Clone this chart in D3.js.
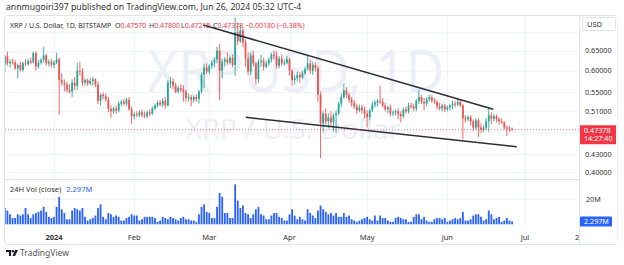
<!DOCTYPE html>
<html>
<head>
<meta charset="utf-8">
<script src="https://cdn.jsdelivr.net/npm/d3@7"></script>
<style>
  body { margin: 0; background: #fff; }
  svg text { font-family: "Noto Sans", sans-serif; }
</style>
</head>
<body>
<div id="chart"></div>
<script>
// daily candles, first bar = Dec 13 2023 (UTC)
const startDate = new Date(Date.UTC(2023, 11, 13));

const open = [
  // Dec
  0.615,0.636,0.618,0.622,0.620,0.606,0.614,0.602,0.618,0.616,0.624,0.620,0.644,0.610,0.620,0.626,0.638,0.618,0.622,
  // Jan
  0.614,0.620,0.628,0.578,0.572,0.568,0.556,0.552,0.572,0.565,0.600,0.598,0.572,0.578,0.570,0.576,0.580,0.568,0.532,0.545,0.542,0.535,0.515,0.510,0.516,0.512,0.526,0.530,0.526,0.534,0.514,
  // Feb
  0.500,0.504,0.502,0.508,0.502,0.500,0.508,0.505,0.516,0.522,0.528,0.524,0.532,0.522,0.572,0.575,0.566,0.552,0.560,0.556,0.552,0.538,0.540,0.534,0.540,0.536,0.552,0.590,0.608,
  // Mar
  0.598,0.612,0.620,0.628,0.650,0.600,0.622,0.628,0.620,0.632,0.614,0.700,0.675,0.705,0.672,0.630,0.598,0.638,0.618,0.580,0.622,0.625,0.610,0.618,0.628,0.640,0.636,0.612,0.630,0.618,0.620,
  // Apr
  0.628,0.600,0.578,0.582,0.590,0.584,0.594,0.604,0.618,0.600,0.614,0.606,0.545,0.486,0.505,0.490,0.498,0.488,0.502,0.506,0.526,0.540,0.555,0.545,0.534,0.528,0.520,0.512,0.518,0.512,
  // May
  0.505,0.498,0.512,0.524,0.528,0.532,0.530,0.522,0.514,0.518,0.506,0.508,0.510,0.504,0.500,0.514,0.510,0.522,0.520,0.516,0.532,0.540,0.530,0.526,0.535,0.540,0.532,0.530,0.520,0.516,0.522,
  // Jun
  0.514,0.518,0.522,0.526,0.524,0.530,0.522,0.496,0.494,0.498,0.490,0.478,0.492,0.478,0.474,0.478,0.490,0.502,0.495,0.500,0.494,0.490,0.488,0.478,0.476,0.4757
];
const high = [
  0.640,0.648,0.628,0.630,0.626,0.618,0.622,0.622,0.628,0.630,0.632,0.648,0.648,0.626,0.632,0.660,0.642,0.628,0.630,
  0.626,0.645,0.632,0.594,0.580,0.574,0.568,0.580,0.585,0.620,0.622,0.606,0.582,0.582,0.582,0.585,0.582,0.575,0.548,0.550,0.548,0.540,0.522,0.520,0.522,0.530,0.534,0.536,0.538,0.540,0.520,
  0.508,0.510,0.512,0.514,0.510,0.512,0.514,0.520,0.526,0.532,0.534,0.538,0.540,0.578,0.585,0.582,0.572,0.564,0.568,0.566,0.556,0.548,0.545,0.544,0.546,0.556,0.596,0.616,0.618,
  0.616,0.626,0.634,0.660,0.668,0.630,0.634,0.645,0.638,0.640,0.742,0.725,0.722,0.712,0.680,0.645,0.645,0.650,0.622,0.628,0.640,0.632,0.625,0.632,0.645,0.650,0.648,0.636,0.640,0.628,0.636,
  0.632,0.604,0.590,0.598,0.596,0.600,0.610,0.640,0.628,0.622,0.620,0.612,0.552,0.510,0.516,0.506,0.510,0.505,0.512,0.530,0.548,0.570,0.562,0.550,0.540,0.534,0.526,0.524,0.524,0.520,
  0.512,0.515,0.530,0.534,0.536,0.565,0.538,0.528,0.522,0.524,0.512,0.514,0.516,0.510,0.518,0.520,0.528,0.528,0.526,0.536,0.556,0.545,0.538,0.540,0.545,0.544,0.538,0.534,0.528,0.526,0.526,
  0.522,0.525,0.532,0.532,0.536,0.535,0.526,0.502,0.502,0.502,0.494,0.496,0.496,0.486,0.482,0.496,0.518,0.508,0.505,0.504,0.498,0.496,0.490,0.482,0.481,0.478
];
const low = [
  0.595,0.612,0.608,0.615,0.602,0.582,0.598,0.598,0.610,0.612,0.616,0.618,0.600,0.605,0.615,0.620,0.612,0.610,0.608,
  0.606,0.616,0.503,0.565,0.552,0.550,0.548,0.540,0.555,0.556,0.588,0.565,0.565,0.565,0.566,0.565,0.562,0.525,0.522,0.535,0.530,0.508,0.497,0.505,0.505,0.508,0.520,0.522,0.520,0.512,0.485,
  0.494,0.498,0.498,0.498,0.496,0.496,0.500,0.503,0.512,0.518,0.520,0.518,0.515,0.520,0.560,0.558,0.548,0.548,0.550,0.530,0.530,0.530,0.520,0.528,0.530,0.526,0.548,0.560,0.592,
  0.592,0.604,0.608,0.618,0.533,0.582,0.610,0.614,0.615,0.608,0.588,0.665,0.670,0.660,0.610,0.590,0.590,0.610,0.568,0.572,0.610,0.600,0.606,0.612,0.620,0.628,0.605,0.606,0.612,0.612,0.616,
  0.588,0.565,0.568,0.575,0.572,0.580,0.590,0.600,0.592,0.590,0.598,0.530,0.423,0.470,0.484,0.476,0.480,0.470,0.468,0.502,0.518,0.536,0.538,0.528,0.520,0.515,0.505,0.508,0.505,0.495,
  0.478,0.492,0.508,0.518,0.520,0.525,0.518,0.510,0.506,0.500,0.500,0.502,0.494,0.488,0.496,0.505,0.506,0.515,0.510,0.510,0.525,0.525,0.512,0.520,0.530,0.528,0.525,0.514,0.512,0.510,0.508,
  0.510,0.512,0.514,0.518,0.520,0.518,0.456,0.488,0.490,0.482,0.472,0.474,0.460,0.468,0.470,0.474,0.470,0.485,0.490,0.488,0.484,0.485,0.474,0.462,0.470,0.47215
];
const close = [
  0.636,0.618,0.622,0.620,0.606,0.614,0.602,0.618,0.616,0.624,0.620,0.644,0.610,0.620,0.626,0.638,0.618,0.622,0.614,
  0.620,0.628,0.578,0.572,0.568,0.556,0.552,0.572,0.565,0.600,0.598,0.572,0.578,0.570,0.576,0.580,0.568,0.532,0.545,0.542,0.535,0.515,0.510,0.516,0.512,0.526,0.530,0.526,0.534,0.514,0.500,
  0.504,0.502,0.508,0.502,0.500,0.508,0.505,0.516,0.522,0.528,0.524,0.532,0.522,0.572,0.575,0.566,0.552,0.560,0.556,0.552,0.538,0.540,0.534,0.540,0.536,0.552,0.590,0.608,0.598,
  0.612,0.620,0.628,0.650,0.600,0.622,0.628,0.620,0.632,0.614,0.700,0.675,0.705,0.672,0.630,0.598,0.638,0.618,0.580,0.622,0.625,0.610,0.618,0.628,0.640,0.636,0.612,0.630,0.618,0.620,0.628,
  0.600,0.578,0.582,0.590,0.584,0.594,0.604,0.618,0.600,0.614,0.606,0.545,0.486,0.505,0.490,0.498,0.488,0.502,0.506,0.526,0.540,0.555,0.545,0.534,0.528,0.520,0.512,0.518,0.512,0.505,
  0.498,0.512,0.524,0.528,0.532,0.530,0.522,0.514,0.518,0.506,0.508,0.510,0.504,0.500,0.514,0.510,0.522,0.520,0.516,0.532,0.540,0.530,0.526,0.535,0.540,0.532,0.530,0.520,0.516,0.522,0.514,
  0.518,0.522,0.526,0.524,0.530,0.522,0.496,0.494,0.498,0.490,0.478,0.492,0.478,0.474,0.478,0.490,0.502,0.495,0.500,0.494,0.490,0.488,0.478,0.476,0.4757,0.47378
];
// 24H volume, millions
const volume = [
  13,11,8,5,5,8,7,8,13,8,5,8,9,10,11,14,10,6,5,
  6,14,22,12,9,4,4,11,13,12,11,13,6,3,4,5,7,13,16,6,4,9,8,6,7,6,3,3,5,6,8,
  7,7,3,4,6,6,6,6,5,2,3,6,5,4,6,5,4,3,5,6,4,4,3,3,2,8,14,16,10,
  9,5,5,14,25,22,9,9,5,5,32,19,13,15,9,8,5,8,12,14,8,7,4,4,7,9,9,6,5,3,3,
  8,12,7,4,6,4,3,12,9,7,5,11,15,12,10,8,9,7,9,6,6,9,6,7,4,3,2,3,4,5,
  6,4,3,7,3,7,5,5,3,2,2,5,6,5,4,4,2,2,6,8,8,4,6,3,2,2,4,5,5,4,5,
  2,3,4,5,4,5,10,3,3,4,7,8,8,6,3,4,11,8,4,5,6,2,3,5,3,2.297
];

const priceTicks = [0.40, 0.43, 0.47, 0.51, 0.55, 0.60, 0.65, 0.70];
const priceLabels = [0.40, 0.43, 0.51, 0.55, 0.60, 0.65];
const volTicks = [20];
const timeTicks = [
  Date.UTC(2024,0,1), Date.UTC(2024,1,1), Date.UTC(2024,2,1), Date.UTC(2024,3,1),
  Date.UTC(2024,4,1), Date.UTC(2024,5,1), Date.UTC(2024,6,1), Date.UTC(2024,6,22)
];
const timeLabels = ["2024", "Feb", "Mar", "Apr", "May", "Jun", "Jul", "22"];

// trend lines [time, price]
const upperTrend = [[Date.UTC(2024,1,27,16), 0.7204], [Date.UTC(2024,5,18,18), 0.5142]];
const lowerTrend = [[Date.UTC(2024,2,15,2), 0.498], [Date.UTC(2024,5,27,19), 0.4427]];

const lastPrice = 0.47378;
const lastVol = 2.297;

const UP = "#26a69a", DOWN = "#ef5350", RED = "#f23645", BLUE = "#2962ff";
const W = 624, H = 265;
const plotL = 5, plotR = 579, plotT = 16, priceB = 179, volB = 229;

const svg = d3.select("#chart").append("svg")
  .attr("width", W).attr("height", H);

const dates = d3.utcDay.range(startDate, d3.utcDay.offset(startDate, close.length));

const x = d3.scaleUtc()
  .domain([new Date(Date.UTC(2024,0,1)), new Date(Date.UTC(2024,6,1))])
  .range([54, 525]);
const y = d3.scaleLog().domain([0.389, 0.747]).range([priceB, plotT]);
const yv = d3.scaleLinear().domain([0, 20]).range([224.3, 199.3]);

const defs = svg.append("defs");
defs.append("clipPath").attr("id", "clipPrice").append("rect")
  .attr("x", plotL).attr("y", plotT).attr("width", plotR - plotL).attr("height", priceB - plotT);
defs.append("clipPath").attr("id", "clipVol").append("rect")
  .attr("x", plotL).attr("y", priceB).attr("width", plotR - plotL).attr("height", volB - priceB);

// frame
svg.append("rect")
  .attr("x", 4.5).attr("y", 15.5).attr("width", 613).attr("height", 229)
  .attr("rx", 3).attr("fill", "#fff").attr("stroke", "#e0e3eb");

// grid
const grid = svg.append("g").attr("stroke", "#f0f3fa").attr("stroke-width", 1);
priceTicks.forEach(t => {
  grid.append("line").attr("x1", plotL).attr("x2", plotR)
    .attr("y1", Math.round(y(t)) + 0.5).attr("y2", Math.round(y(t)) + 0.5);
});
volTicks.forEach(t => {
  grid.append("line").attr("x1", plotL).attr("x2", plotR)
    .attr("y1", Math.round(yv(t)) + 0.5).attr("y2", Math.round(yv(t)) + 0.5);
});
timeTicks.slice(0, 7).forEach(t => {
  grid.append("line").attr("y1", plotT).attr("y2", volB)
    .attr("x1", Math.round(x(t)) + 0.5).attr("x2", Math.round(x(t)) + 0.5);
});
// pane separator
svg.append("line").attr("x1", plotL).attr("x2", 617)
  .attr("y1", priceB + 0.5).attr("y2", priceB + 0.5).attr("stroke", "#e0e3eb");

// watermark
svg.append("text").attr("x", 296).attr("y", 92).attr("text-anchor", "middle")
  .attr("font-size", 58).attr("fill", "#eceff8")
  .attr("textLength", 297).attr("lengthAdjust", "spacingAndGlyphs")
  .text("XRPUSD, 1D");
svg.append("text").attr("x", 293).attr("y", 139).attr("text-anchor", "middle")
  .attr("font-size", 28).attr("fill", "#eceff8")
  .attr("textLength", 215).attr("lengthAdjust", "spacingAndGlyphs")
  .text("XRP / U.S. Dollar");

// candles
const bodyW = 1.8;
const candles = svg.append("g").attr("clip-path", "url(#clipPrice)");
dates.forEach((d, i) => {
  const col = close[i] >= open[i] ? UP : DOWN;
  const cx = x(d);
  candles.append("line")
    .attr("x1", cx).attr("x2", cx)
    .attr("y1", y(high[i])).attr("y2", y(low[i]))
    .attr("stroke", col).attr("stroke-width", 0.9);
  const y0 = Math.min(y(open[i]), y(close[i]));
  const hgt = Math.max(1, Math.abs(y(open[i]) - y(close[i])));
  candles.append("rect")
    .attr("x", cx - bodyW / 2).attr("y", y0)
    .attr("width", bodyW).attr("height", hgt)
    .attr("fill", col);
});

// volume
const vols = svg.append("g").attr("clip-path", "url(#clipVol)");
dates.forEach((d, i) => {
  vols.append("rect")
    .attr("x", x(d) - bodyW / 2).attr("y", yv(volume[i]))
    .attr("width", bodyW).attr("height", yv(0) - yv(volume[i]))
    .attr("fill", BLUE);
});

// trend lines
const line = d3.line().x(d => x(d[0])).y(d => y(d[1]));
[upperTrend, lowerTrend].forEach(t => {
  svg.append("path").datum(t)
    .attr("d", line).attr("fill", "none")
    .attr("stroke", "#2a2e39").attr("stroke-width", 1.5);
});

// last price line
svg.append("line").attr("x1", plotL).attr("x2", plotR)
  .attr("y1", y(lastPrice)).attr("y2", y(lastPrice))
  .attr("stroke", RED).attr("stroke-width", 1)
  .attr("stroke-dasharray", "1,2").attr("opacity", 0.7);

// publish header
svg.append("text").attr("x", 6).attr("y", 10)
  .attr("font-size", 8.7).attr("fill", "#333")
  .text("annmugoiri397 published on TradingView.com, Jun 26, 2024 05:32 UTC-4");

// legend line
const leg = svg.append("text").attr("y", 27.5).attr("font-size", 7).attr("fill", "#333");
leg.append("tspan").attr("x", 10).text("XRP / U.S. Dollar, 1D, BITSTAMP");
[["O", "0.47570", 115], ["H", "0.47800", 149], ["L", "0.47215", 181], ["C", "0.47378", 213]].forEach(([k, v, px]) => {
  leg.append("tspan").attr("x", px).text(k);
  leg.append("tspan").attr("fill", RED).text(v);
});
leg.append("tspan").attr("x", 245).attr("fill", RED).text("\u22120.00180 (\u22120.38%)");

// volume legend
const vl = svg.append("text").attr("x", 10).attr("y", 192).attr("font-size", 7.5).attr("fill", "#333");
vl.append("tspan").text("24H Vol (close)");
vl.append("tspan").attr("dx", 5).attr("fill", BLUE).text("2.297M");

// time axis labels
timeTicks.forEach((t, i) => {
  svg.append("text").attr("x", x(t)).attr("y", 239.5)
    .attr("text-anchor", "middle").attr("font-size", 7.5)
    .attr("font-weight", i === 0 ? "bold" : "normal")
    .attr("fill", "#333").text(timeLabels[i]);
});

// price axis panel
svg.append("rect").attr("x", 579.5).attr("y", 16).attr("width", 38).attr("height", 228).attr("fill", "#fff");
svg.append("line").attr("x1", 579.5).attr("x2", 579.5).attr("y1", 16).attr("y2", 244)
  .attr("stroke", "#e0e3eb");
svg.append("rect").attr("x", 582.5).attr("y", 17.5).attr("width", 33).attr("height", 13)
  .attr("rx", 2).attr("fill", "#fff").attr("stroke", "#e0e3eb");
svg.append("text").attr("x", 587).attr("y", 27).attr("font-size", 7.5).attr("fill", "#333").text("USD");

priceLabels.forEach(t => {
  svg.append("text").attr("x", 585).attr("y", y(t) + 2.7)
    .attr("font-size", 7.2).attr("fill", "#333").text(t.toFixed(5));
});
volTicks.forEach(t => {
  svg.append("text").attr("x", 586).attr("y", yv(t) + 2.7)
    .attr("font-size", 7.2).attr("fill", "#333").text(t + "M");
});

// last price tag
const ly = y(lastPrice);
svg.append("rect").attr("x", 580).attr("y", ly - 4.5).attr("width", 36).attr("height", 19)
  .attr("fill", RED);
svg.append("text").attr("x", 584).attr("y", ly + 3).attr("font-size", 7.2).attr("fill", "#fff").text(lastPrice.toFixed(5));
svg.append("text").attr("x", 584).attr("y", ly + 11.5).attr("font-size", 7.2).attr("fill", "#fff").text("14:27:40");

// last volume tag
const vy = yv(lastVol);
svg.append("rect").attr("x", 580).attr("y", vy - 5).attr("width", 32).attr("height", 10)
  .attr("rx", 1).attr("fill", BLUE);
svg.append("text").attr("x", 584).attr("y", vy + 2.6).attr("font-size", 7.2).attr("fill", "#fff").text(lastVol + "M");

// TradingView footer
const logo = svg.append("g").attr("transform", "translate(6,250)").attr("fill", "#131722");
logo.append("path").attr("d", "M0 0H5V6H3V2H0Z");
logo.append("circle").attr("cx", 6.8).attr("cy", 1.2).attr("r", 1.2);
logo.append("path").attr("d", "M9 0H12L9 6H6.5Z");
svg.append("text").attr("x", 20).attr("y", 256).attr("font-size", 8.5).attr("fill", "#555").text("TradingView");
</script>
</body>
</html>
